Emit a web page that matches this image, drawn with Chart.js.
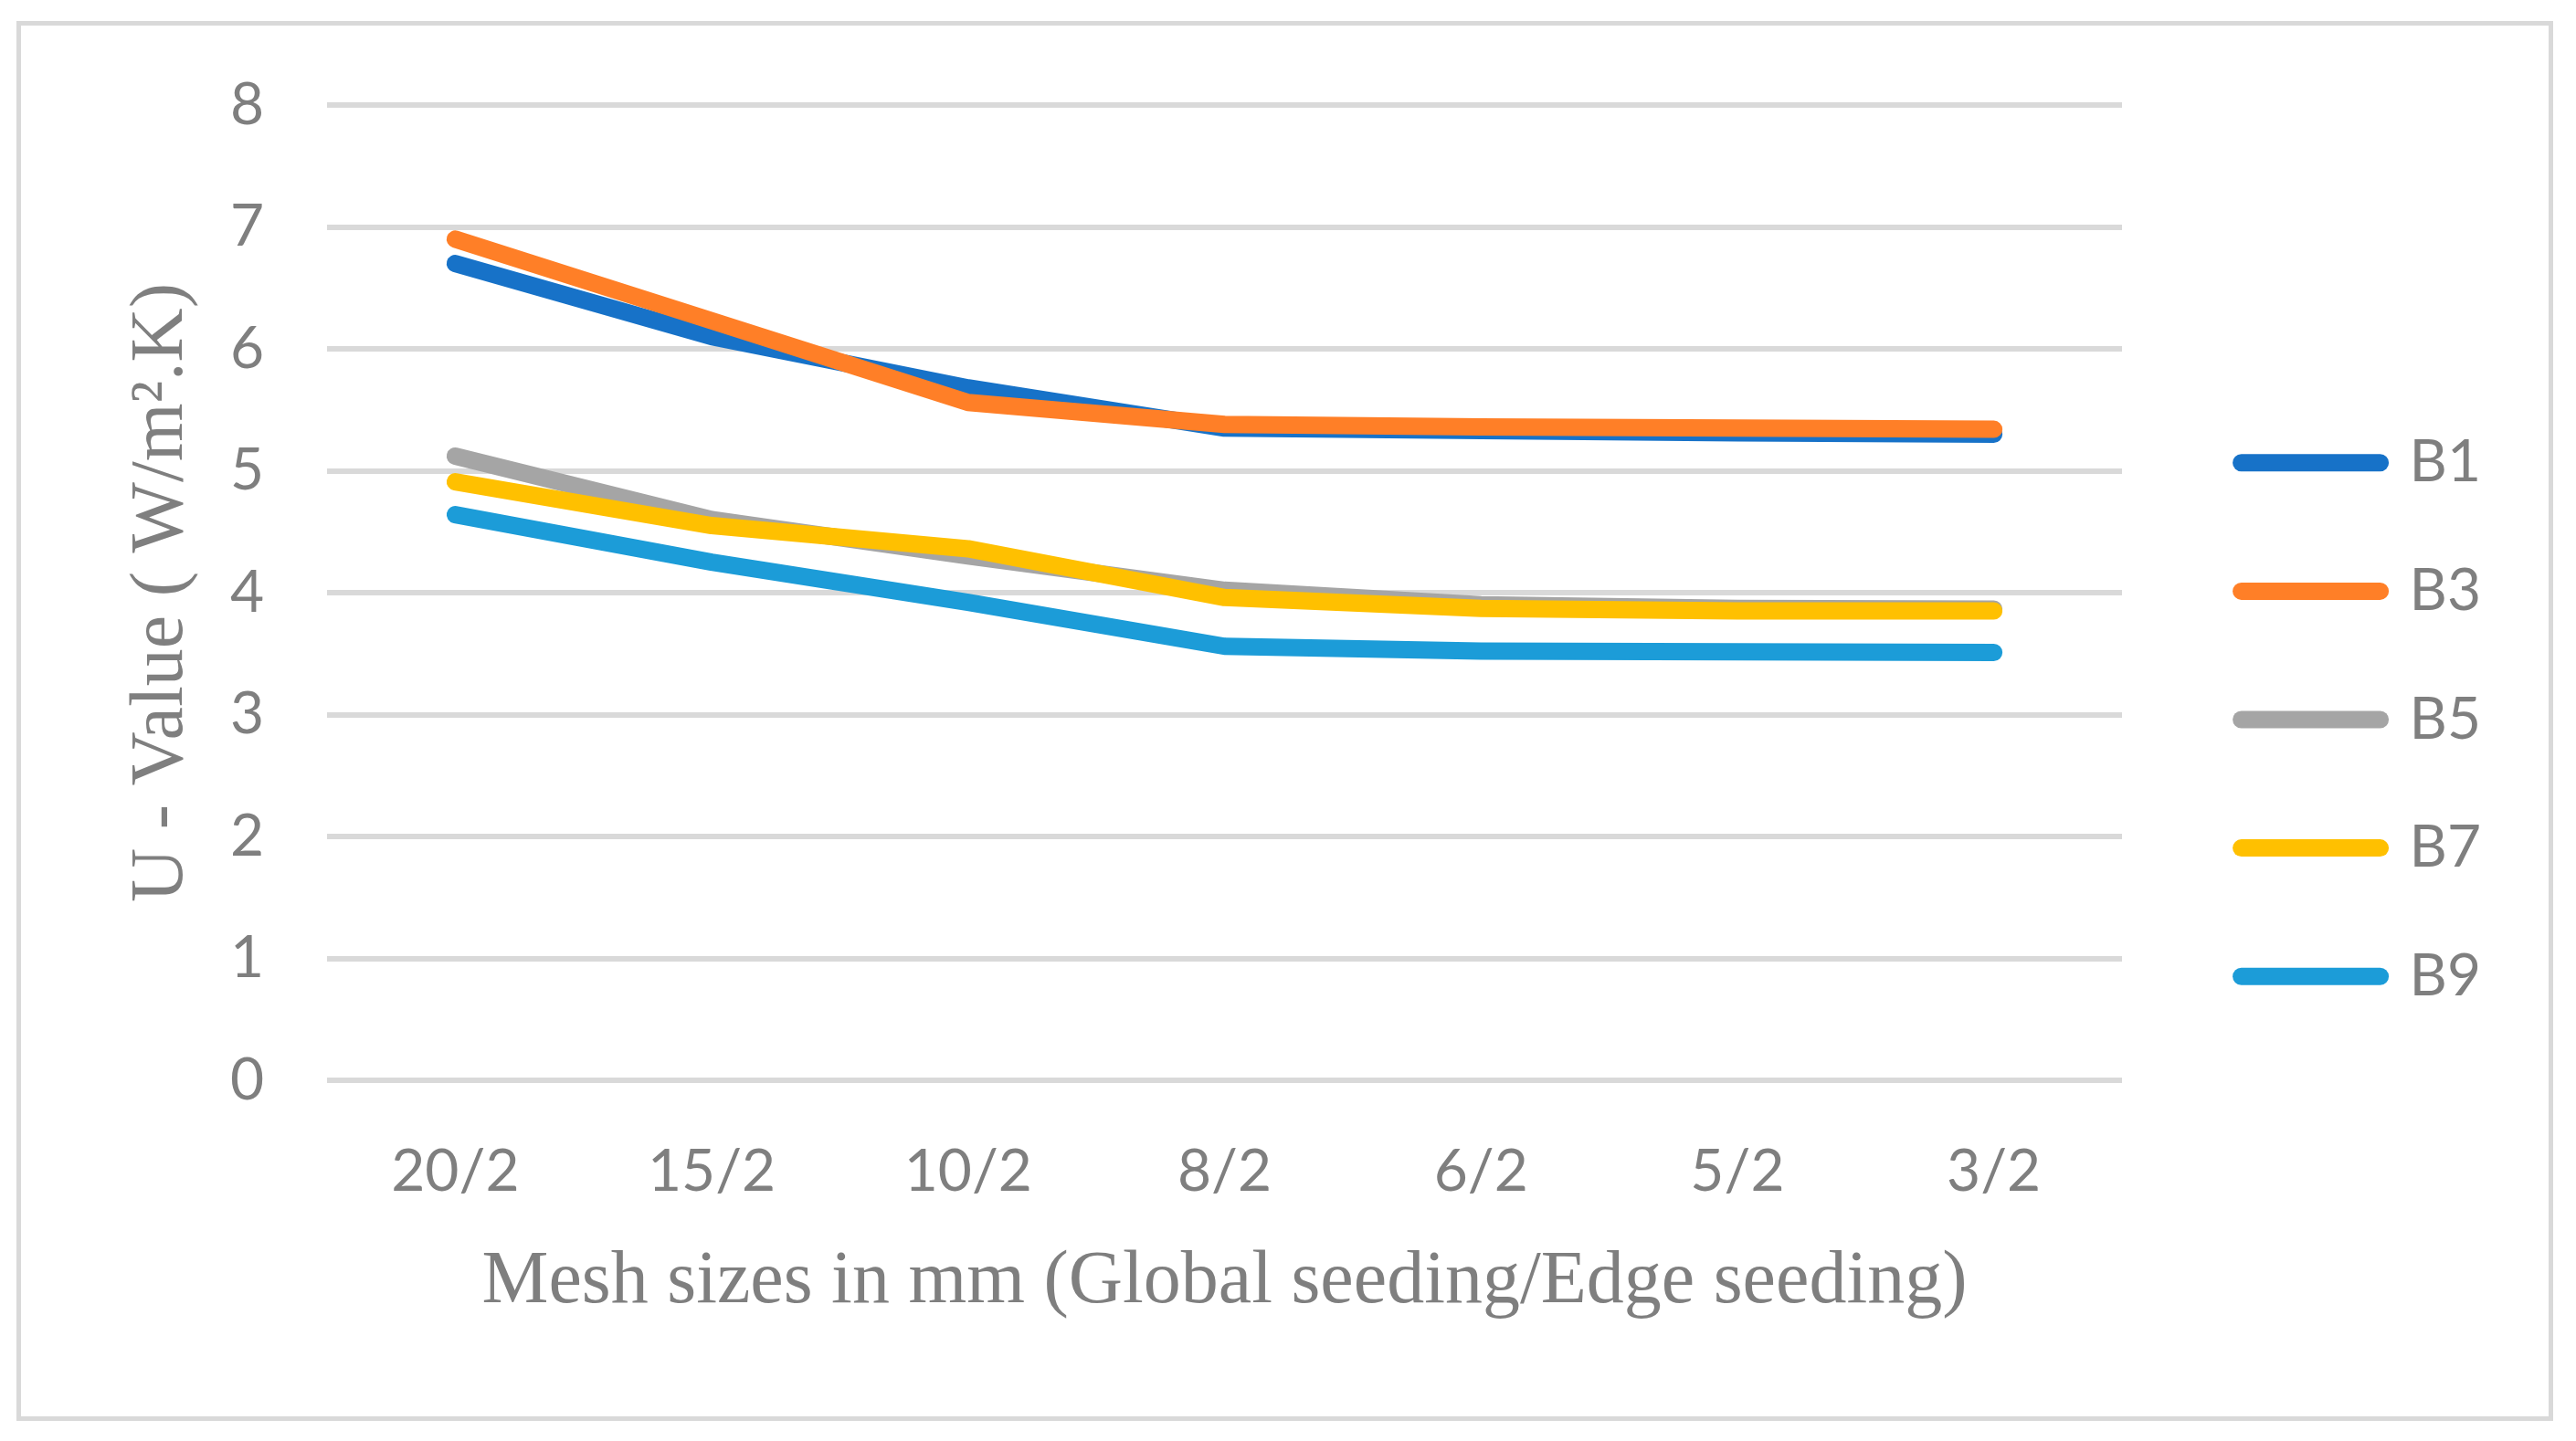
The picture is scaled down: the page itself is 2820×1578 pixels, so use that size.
<!DOCTYPE html>
<html>
<head>
<meta charset="utf-8">
<title>U-Value vs mesh size</title>
<script src="https://cdn.jsdelivr.net/npm/chart.js@4.4.1/dist/chart.umd.min.js"></script>
<style>
    html, body { margin: 0; padding: 0; background: #ffffff; }
    #wrap { position: relative; width: 2820px; height: 1578px; }
    #marco {
        position: absolute; left: 18px; top: 23px;
        width: 2777px; height: 1533px;
        box-sizing: border-box; border: 5px solid #d9d9d9;
        pointer-events: none;
    }
    canvas { position: absolute; left: 0; top: 0; }
</style>
</head>
<body>
<div id="wrap">
    <canvas id="chartMalla" width="2820" height="1578"></canvas>
    <div id="marco"></div>
</div>
<script>
// datos
const categorias = ['20/2', '15/2', '10/2', '8/2', '6/2', '5/2', '3/2'];
const nombres = ['B1', 'B3', 'B5', 'B7', 'B9'];
const valoresB1 = [6.70, 6.10, 5.68, 5.35, 5.33, 5.31, 5.30];
const valoresB3 = [6.90, 6.23, 5.56, 5.38, 5.36, 5.35, 5.34];
const valoresB5 = [5.12, 4.60, 4.30, 4.02, 3.90, 3.87, 3.865];
const valoresB7 = [4.91, 4.55, 4.36, 3.96, 3.87, 3.85, 3.85];
const valoresB9 = [4.64, 4.25, 3.92, 3.56, 3.52, 3.515, 3.51];
const ticksY = [0, 1, 2, 3, 4, 5, 6, 7, 8];

const colores = ['#1772c8', '#ff7f27', '#a5a5a5', '#ffc000', '#1c9cd8'];
const gris = '#7f7f7f';
const fuenteTicks = 'Lato, "Open Sans", sans-serif';
const fuenteTitulo = '"Liberation Serif", "DejaVu Serif", serif';
const grosor = 19;

const series = [valoresB1, valoresB3, valoresB5, valoresB7, valoresB9];

// ancho fijo de la leyenda
const anchoLeyenda = {
    id: 'anchoLeyenda',
    beforeLayout(chart) {
        const legend = chart.legend;
        if (!legend || legend._anchoFijo) return;
        const fitOriginal = legend.fit;
        legend.fit = function () {
            fitOriginal.call(this);
            this.width = 443;
        };
        legend._anchoFijo = true;
    }
};

function crearGrafica() {
    const ctx = document.getElementById('chartMalla').getContext('2d');

    new Chart(ctx, {
        type: 'line',
        data: {
            labels: categorias,
            datasets: series.map((valores, i) => ({
                label: nombres[i],
                data: valores,
                borderColor: colores[i],
                backgroundColor: colores[i],
                borderWidth: grosor,
                borderCapStyle: 'round',
                borderJoinStyle: 'round',
                pointRadius: 0,
                tension: 0,
                order: series.length - i   // las ultimas series encima
            }))
        },
        options: {
            responsive: false,
            devicePixelRatio: 1,
            animation: false,
            events: [],
            layout: {
                padding: { left: 0, top: 115, right: 0, bottom: 117 }
            },
            plugins: {
                tooltip: { enabled: false },
                legend: {
                    position: 'right',
                    labels: {
                        usePointStyle: true,
                        pointStyle: 'line',
                        pointStyleWidth: 152,
                        padding: 76.6,
                        color: gris,
                        font: { family: fuenteTicks, size: 64 },
                        sort: (a, b) => a.datasetIndex - b.datasetIndex,
                        generateLabels(chart) {
                            const items = Chart.defaults.plugins.legend.labels.generateLabels(chart);
                            items.forEach(item => {
                                item.lineCap = 'round';
                                item.lineWidth = grosor;
                            });
                            return items;
                        }
                    }
                }
            },
            scales: {
                x: {
                    type: 'category',
                    offset: true,
                    grid: { display: false, drawTicks: false },
                    border: { display: false },
                    ticks: {
                        color: gris,
                        padding: 62,
                        maxRotation: 0,
                        font: { family: fuenteTicks, size: 64 }
                    },
                    title: {
                        display: true,
                        text: 'Mesh sizes in mm (Global seeding/Edge seeding)',
                        color: gris,
                        font: { family: fuenteTitulo, size: 82 },
                        padding: { top: 0, bottom: 7 }
                    },
                    afterFit(scale) { scale.height = 278; }
                },
                y: {
                    min: 0,
                    max: 8,
                    grid: { color: '#d9d9d9', lineWidth: 6, drawTicks: false },
                    border: { display: false },
                    afterBuildTicks(scale) {
                        scale.ticks = ticksY.map(v => ({ value: v }));
                    },
                    ticks: {
                        color: gris,
                        padding: 69,
                        font: { family: fuenteTicks, size: 64 }
                    },
                    title: {
                        display: true,
                        text: 'U - Value ( W/m\u00B2.K)',
                        color: gris,
                        font: { family: fuenteTitulo, size: 82 },
                        padding: { top: 128, bottom: 0 }
                    },
                    afterFit(scale) { scale.width = 358; }
                },
                hueco: {
                    type: 'linear',
                    position: 'right',
                    display: true,
                    grid: { display: false, drawTicks: false },
                    border: { display: false },
                    ticks: { display: false },
                    afterFit(scale) { scale.width = 54; }
                }
            }
        },
        plugins: [anchoLeyenda]
    });
}

crearGrafica();
</script>
</body>
</html>
